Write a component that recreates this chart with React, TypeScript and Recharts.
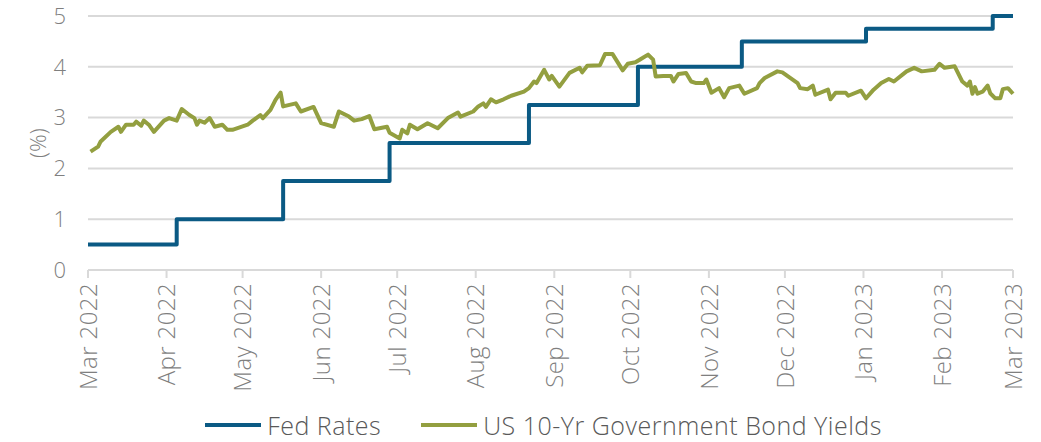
import React from 'react';
import { LineChart, Line, XAxis, YAxis, CartesianGrid, Legend } from 'recharts';

// Days counted from 1 Mar 2022
const monthTickDays = [0, 31, 61, 92, 122, 153, 184, 214, 245, 275, 306, 337, 365];
const monthTickLabels = [
  'Mar 2022', 'Apr 2022', 'May 2022', 'Jun 2022', 'Jul 2022', 'Aug 2022', 'Sep 2022',
  'Oct 2022', 'Nov 2022', 'Dec 2022', 'Jan 2023', 'Feb 2023', 'Mar 2023',
];

const fedDays = [0, 35, 77, 119, 174, 217, 258, 307, 357, 365];
const fedRates = [0.5, 1.0, 1.75, 2.5, 3.25, 4.0, 4.5, 4.75, 5.0, 5.0];

const yieldDays = [
  1, 4, 5, 9, 12, 13, 15, 18, 19, 21, 22, 24, 26, 30, 32, 35, 37, 40, 42, 43, 44, 46, 48, 50, 53, 55, 57,
  63, 65, 68, 69, 72, 74, 76, 77, 82, 84, 89, 92, 97, 99, 103, 105, 108, 111, 113, 115, 118, 119, 123, 124,
  126, 127, 130, 134, 138, 142, 146, 147, 152, 154, 156, 157, 159, 161, 164, 167, 172, 174, 176, 177, 180,
  182, 183, 186, 190, 194, 195, 197, 202, 204, 207, 211, 213, 216, 218, 221, 223, 224, 227, 230, 231, 233,
  236, 238, 240, 243, 244, 246, 249, 251, 253, 257, 259, 264, 265, 267, 272, 274, 280, 281, 284, 286, 287,
  292, 293, 295, 299, 300, 305, 307, 310, 313, 316, 318, 323, 326, 329, 334, 336, 338, 342, 345, 347, 348,
  349, 350, 351, 353, 355, 356, 358, 360, 361, 363, 365,
];
const yieldValues = [
  2.33, 2.43, 2.53, 2.72, 2.82, 2.72, 2.86, 2.86, 2.92, 2.84, 2.94, 2.86, 2.72, 2.94, 2.99, 2.94, 3.17, 3.05,
  2.99, 2.86, 2.94, 2.9, 2.99, 2.82, 2.86, 2.76, 2.76, 2.86, 2.94, 3.05, 2.99, 3.15, 3.35, 3.49, 3.22, 3.28,
  3.12, 3.21, 2.89, 2.82, 3.12, 3.02, 2.94, 2.97, 3.03, 2.77, 2.79, 2.82, 2.7, 2.59, 2.76, 2.69, 2.86, 2.77,
  2.89, 2.79, 2.99, 3.1, 3.02, 3.12, 3.22, 3.28, 3.21, 3.36, 3.3, 3.36, 3.43, 3.51, 3.58, 3.71, 3.68, 3.94,
  3.75, 3.82, 3.61, 3.88, 3.98, 3.89, 4.02, 4.03, 4.25, 4.25, 3.93, 4.06, 4.09, 4.15, 4.24, 4.14, 3.81, 3.82,
  3.82, 3.71, 3.86, 3.88, 3.71, 3.68, 3.68, 3.75, 3.49, 3.58, 3.4, 3.58, 3.63, 3.47, 3.58, 3.68, 3.78, 3.91,
  3.89, 3.68, 3.58, 3.56, 3.63, 3.45, 3.55, 3.36, 3.49, 3.49, 3.43, 3.53, 3.38, 3.55, 3.68, 3.76, 3.71, 3.91,
  3.98, 3.91, 3.94, 4.06, 3.98, 4.01, 3.71, 3.63, 3.71, 3.47, 3.6, 3.47, 3.51, 3.63, 3.48, 3.38, 3.38, 3.56,
  3.58, 3.47,
];

const yTicks = [0, 1, 2, 3, 4, 5];

const seriesNames = ['Fed Rates', 'US 10-Yr Government Bond Yields'];
const seriesColors = ['#0b5a84', '#939f40'];

const fedData = fedDays.map((d, i) => ({ day: d, value: fedRates[i] }));
const yieldData = yieldDays.map((d, i) => ({ day: d, value: yieldValues[i] }));

const FONT = '"Open Sans", "Segoe UI", sans-serif';
const GRID = '#d9d9d9';
const TEXT = '#7f7f7f';

const XTick = (props: any) => {
  const { x, y, payload } = props;
  const idx = monthTickDays.indexOf(payload.value);
  return (
    <g transform={`translate(${x},${y})`}>
      <text
        transform="rotate(-90)"
        textAnchor="end"
        dy="0.36em"
        fill={TEXT}
        fontSize={24}
        letterSpacing={0.4}
        fontWeight={300}
        fontFamily={FONT}
      >
        {monthTickLabels[idx]}
      </text>
    </g>
  );
};

const LegendContent = () => (
  <div
    style={{
      display: 'flex',
      justifyContent: 'center',
      alignItems: 'center',
      height: 34,
      fontFamily: FONT,
      fontWeight: 300,
      fontSize: 25,
      letterSpacing: 0.5,
      color: '#595959',
      paddingLeft: 66,
    }}
  >
    {seriesNames.map((n, i) => (
      <div key={n} style={{ display: 'flex', alignItems: 'center', marginRight: i === 0 ? 40 : 0 }}>
        <div style={{ width: 56, height: 4, background: seriesColors[i], marginRight: 6 }} />
        <span>{n}</span>
      </div>
    ))}
  </div>
);

export default function App() {
  return (
    <div style={{ marginTop: -8 }}>
      <LineChart width={1025} height={442} margin={{ top: 16, right: 20, left: 0, bottom: 0 }}>
        <CartesianGrid vertical={false} stroke={GRID} strokeWidth={2} />
        <XAxis
          dataKey="day"
          type="number"
          domain={[0, 365]}
          ticks={monthTickDays}
          interval={0}
          height={138}
          stroke={GRID}
          strokeWidth={2}
          tickSize={8}
          tickMargin={5}
          tickLine={{ stroke: GRID, strokeWidth: 2 }}
          tick={<XTick />}
        />
        <YAxis
          type="number"
          domain={[0, 5]}
          ticks={yTicks}
          width={80}
          axisLine={false}
          tickLine={false}
          tickSize={0}
          tickMargin={22}
          tick={{ fill: TEXT, fontSize: 22, fontWeight: 300, fontFamily: FONT }}
          label={{
            content: ({ viewBox }: any) => (
              <text
                x={viewBox.x + 29}
                y={viewBox.y + viewBox.height / 2}
                transform={`rotate(-90, ${viewBox.x + 29}, ${viewBox.y + viewBox.height / 2})`}
                textAnchor="middle"
                dominantBaseline="central"
                fill={TEXT}
                fontSize={22}
                fontWeight={300}
                fontFamily={FONT}
              >
                (%)
              </text>
            ),
          }}
        />
        <Legend verticalAlign="bottom" height={34} content={<LegendContent />} />
        <Line
          data={fedData}
          dataKey="value"
          name={seriesNames[0]}
          type="stepAfter"
          stroke={seriesColors[0]}
          strokeWidth={4}
          dot={false}
          strokeLinejoin="round"
          isAnimationActive={false}
        />
        <Line
          data={yieldData}
          dataKey="value"
          name={seriesNames[1]}
          type="linear"
          stroke={seriesColors[1]}
          strokeWidth={4}
          dot={false}
          strokeLinejoin="round"
          isAnimationActive={false}
        />
      </LineChart>
    </div>
  );
}
